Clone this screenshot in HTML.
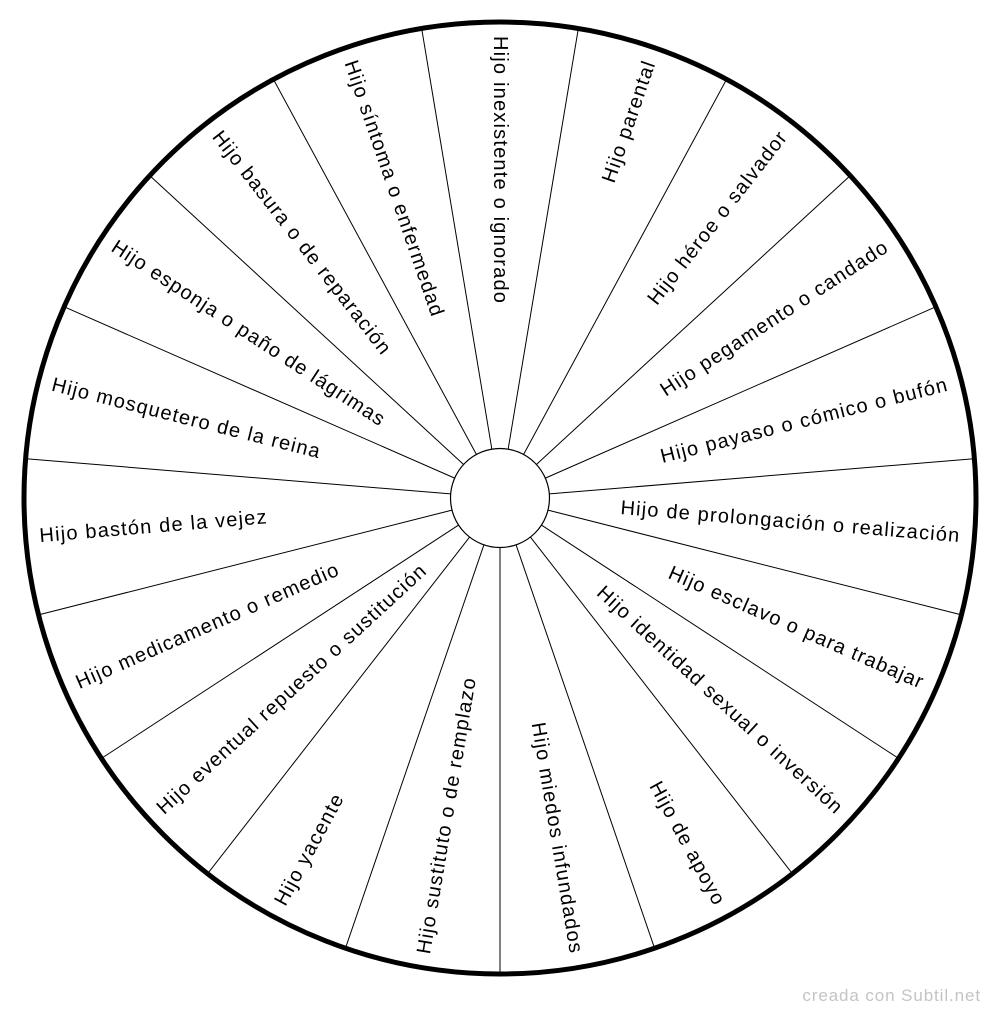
<!DOCTYPE html>
<html><head><meta charset="utf-8"><style>html,body{margin:0;padding:0;background:#fff}svg{display:block}</style></head>
<body>
<svg id="s" width="1000" height="1016" viewBox="0 0 1000 1016" xmlns="http://www.w3.org/2000/svg" font-family="'Liberation Sans', Arial, sans-serif">
<circle cx="500" cy="498" r="476" fill="#fff" stroke="#000" stroke-width="5"/>
<g id="g"></g>
<circle cx="500" cy="498" r="49.5" fill="#fff" stroke="#000" stroke-width="1.2"/>
<text x="981" y="1001" font-size="17" fill="#c4c4c4" text-anchor="end" letter-spacing="0.9">creada con Subtil.net</text>
</svg>
<script>
var labels=["Hijo inexistente o ignorado","Hijo parental","Hijo héroe o salvador","Hijo pegamento o candado","Hijo payaso o cómico o bufón","Hijo de prolongación o realización","Hijo esclavo o para trabajar","Hijo identidad sexual o inversión","Hijo de apoyo","Hijo miedos infundados","Hijo sustituto o de remplazo","Hijo yacente","Hijo eventual repuesto o sustitución","Hijo medicamento o remedio","Hijo bastón de la vejez","Hijo mosquetero de la reina","Hijo esponja o paño de lágrimas","Hijo basura o de reparación","Hijo síntoma o enfermedad"];
var cx=500,cy=498,R=474,r=49.5,n=19,step=360/n,h='';
for(var k=0;k<n;k++){
 var a=(k*step+step/2)*Math.PI/180;
 var dx=Math.sin(a),dy=-Math.cos(a);
 h+='<line x1="'+(cx+dx*r)+'" y1="'+(cy+dy*r)+'" x2="'+(cx+dx*R)+'" y2="'+(cy+dy*R)+'" stroke="#000" stroke-width="1"/>';
}
for(var k=0;k<n;k++){
 var deg=k*step,a=deg*Math.PI/180;
 var dx=Math.sin(a),dy=-Math.cos(a);
 var px=cx+dx*(R-12),py=cy+dy*(R-12);
 var rot,anc;
 if(deg>0.1&&deg<180){rot=deg-90;anc='end';}else{rot=deg+90;anc='start';}
 h+='<text x="'+px+'" y="'+py+'" font-size="20" letter-spacing="1.2" fill="#000" text-anchor="'+anc+'" dominant-baseline="central" transform="rotate('+rot+' '+px+' '+py+')">'+labels[k]+'</text>';
}
document.getElementById('g').innerHTML=h;
</script>
</body></html>
